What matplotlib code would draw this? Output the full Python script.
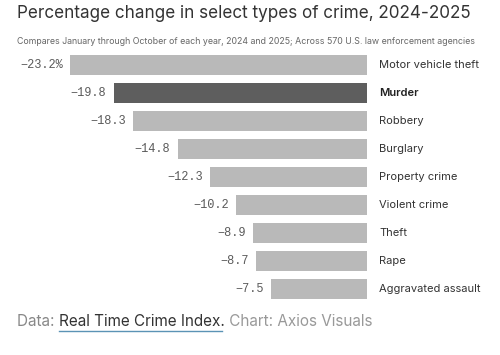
import matplotlib
matplotlib.use("Agg")
import matplotlib.pyplot as plt
import matplotlib.transforms as mtransforms

categories = ["Motor vehicle theft", "Murder", "Robbery", "Burglary", "Property crime",
              "Violent crime", "Theft", "Rape", "Aggravated assault"]
values = [-23.2, -19.8, -18.3, -14.8, -12.3, -10.2, -8.9, -8.7, -7.5]
highlight = "Murder"

title = "Percentage change in select types of crime, 2024-2025"
subtitle = "Compares January through October of each year, 2024 and 2025; Across 570 U.S. law enforcement agencies"

W, H = 500, 355
fig = plt.figure(figsize=(W/100, H/100), dpi=100)
fig.patch.set_facecolor("white")

ax = fig.add_axes([0, 1 - 303/H, 367/W, 252/H])
ax.set_xlim(-23.2 - 70/12.8, 0)
ax.set_ylim(len(categories) - 0.5, -0.5)
ax.axis("off")

light = "#b9b9b9"
dark = "#5e5e5e"
for i, (c, v) in enumerate(zip(categories, values)):
    col = dark if c == highlight else light
    ax.barh(i, v, height=0.71, color=col, left=0)
    lab = f"{v:.1f}" + ("%" if i == 0 else "")
    lab = lab.replace("-", "\u2212")
    ax.text(v - 0.55, i, lab, ha="right", va="center", fontsize=8.6,
            family="Liberation Mono", color="#5a5a5a")
    trans = mtransforms.blended_transform_factory(ax.transAxes, ax.transData)
    ax.text(379/367, i, c, transform=trans, ha="left", va="center", fontsize=8,
            family="Inter", color="#222222" if c == highlight else "#333333",
            fontweight="semibold" if c == highlight else "normal")

fig.text(17/W, 1 - 13/H, title, ha="left", va="center", fontsize=12.3,
         family="Inter", color="#333333")
fig.text(17/W, 1 - 41/H, subtitle, ha="left", va="center", fontsize=6.35,
         family="Inter", color="#666666")

# footer pieces
renderer = fig.canvas.get_renderer()
y_f = 1 - 322/H
x = 17/W
pieces = [("Data: ", "#888888", False), ("Real Time Crime Index.", "#333333", True),
          (" Chart: Axios Visuals", "#999999", False)]
for txt, col, ul in pieces:
    t = fig.text(x, y_f, txt, ha="left", va="center", fontsize=11, family="Inter", color=col)
    bb = t.get_window_extent(renderer=renderer)
    if ul:
        fig.add_artist(plt.Line2D([bb.x0/W, (bb.x1 - 3)/W], [(bb.y0 - 1)/H, (bb.y0 - 1)/H],
                                  color="#5b93b5", lw=1.0, transform=fig.transFigure))
    x = bb.x1 / W

fig.savefig("out.png", dpi=100)
